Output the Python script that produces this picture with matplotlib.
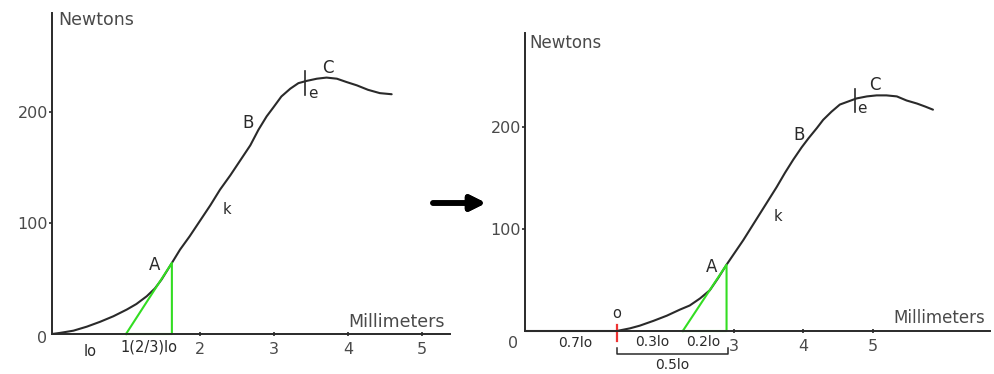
import matplotlib.pyplot as plt

# Load-extension curve (mm, N)
left_mm = [0.0, 0.11, 0.29, 0.47, 0.65, 0.83, 1.01, 1.14, 1.28, 1.39, 1.48, 1.62,
           1.73, 1.86, 2.00, 2.14, 2.27, 2.41, 2.54, 2.68, 2.79, 2.90, 2.99, 3.10,
           3.22, 3.33, 3.44, 3.58, 3.71, 3.85, 3.98, 4.12, 4.27, 4.43, 4.59]
left_n = [0, 1, 3, 6.6, 11, 16, 22, 27, 34, 41, 49, 64,
          76, 88, 102, 116, 130, 143, 156, 170, 184, 196, 204, 214,
          221, 226, 228, 230, 231, 230, 227, 224, 220, 217, 216]

# Same curve after moving the origin to point o
right_mm = [0.0, 1.32, 1.51, 1.65, 1.85, 2.04, 2.23, 2.37, 2.52, 2.66, 2.78, 2.90,
            3.02, 3.14, 3.26, 3.38, 3.50, 3.62, 3.74, 3.86, 3.98, 4.08, 4.20, 4.29,
            4.41, 4.53, 4.65, 4.77, 4.92, 5.06, 5.20, 5.35, 5.49, 5.64, 5.76, 5.87]
right_n = [0, 0, 2.6, 5.2, 10, 15, 21, 25, 32, 40, 52, 65,
           77, 89, 102, 115, 128, 141, 155, 168, 180, 189, 199, 207,
           215, 222, 225, 228, 230, 231, 231, 230, 226, 223, 220, 217]

# Tangent triangles at A
left_tri_mm = [1.0, 1.62, 1.62, 1.0]
left_tri_n = [0, 0, 64, 0]
right_tri_mm = [2.27, 2.90, 2.90, 2.27]
right_tri_n = [0, 0, 65, 0]

# Points on the curve and the elastic limit mark
left_points = {'A': (1.39, 62), 'B': (2.65, 190), 'C': (3.73, 240), 'k': (2.36, 112), 'e': (3.53, 217)}
right_points = {'A': (2.69, 63), 'B': (3.94, 192), 'C': (5.04, 241), 'k': (3.64, 112), 'e': (4.85, 218)}
left_e_mark = 3.42
right_e_mark = 4.75

y_ticks = [100, 200]
left_x_ticks = [2, 3, 4, 5]
right_x_ticks = [3, 4, 5]

o_mm = 1.32

INK = '#2a2a2a'
GRAY = '#4a4a4a'
GREEN = '#33dd22'

W, H = 994, 374


def setup_axes(fig, origin, px_mm, px_100n, x_end, y_top):
    # Place the axes so that one millimetre and 100 N get the given pixel sizes
    ox, oy = origin
    ax = fig.add_axes([ox / W, (H - oy) / H, (x_end - ox) / W, (oy - y_top) / H])
    ax.set_xlim(0, (x_end - ox) / px_mm)
    ax.set_ylim(0, (oy - y_top) / px_100n * 100)
    ax.patch.set_alpha(0)
    for side in ['top', 'right']:
        ax.spines[side].set_visible(False)
    for side in ['left', 'bottom']:
        ax.spines[side].set_color(INK)
        ax.spines[side].set_linewidth(1.4)
    ax.set_yticks(y_ticks)
    ax.set_yticklabels([str(v) for v in y_ticks])
    ax.tick_params(axis='y', direction='out', length=2, width=1.2, color=INK,
                   pad=1, labelsize=11.5, labelcolor=GRAY)
    ax.tick_params(axis='x', direction='inout', length=3, width=1.2, color=INK,
                   pad=4, labelsize=11.5, labelcolor=GRAY)
    return ax


def draw_curve(ax, mm, n, tri_mm, tri_n, points, e_mark):
    ax.plot(mm, n, color=INK, lw=1.5, solid_capstyle='round',
            solid_joinstyle='round', clip_on=False)
    ax.plot(tri_mm, tri_n, color=GREEN, lw=1.5, clip_on=False)
    for name, (x, y) in points.items():
        size = {'k': 10.5, 'e': 11}.get(name, 12)
        ax.text(x, y, name, fontsize=size, color=INK, ha='center', va='center')
    # short stroke across the curve at the elastic limit
    ax.plot([e_mark, e_mark], [215, 237], color=INK, lw=1.2)


fig = plt.figure(figsize=(W / 100, H / 100), dpi=100)

# Left panel
ax1 = setup_axes(fig, (52, 334), 74, 111, 450, 13)
ax1.set_xticks(left_x_ticks)
ax1.set_xticklabels([str(v) for v in left_x_ticks])
draw_curve(ax1, left_mm, left_n, left_tri_mm, left_tri_n, left_points, left_e_mark)
ax1.text(0.08, 283, 'Newtons', fontsize=12.5, color=GRAY, ha='left', va='center')
ax1.text(4.0, 11, 'Millimeters', fontsize=12.5, color=GRAY, ha='left', va='center')
ax1.text(-0.14, -4, '0', fontsize=11.5, color=GRAY, ha='center', va='center')
ax1.text(0.51, -16, 'lo', fontsize=10.5, color=INK, ha='center', va='center')
ax1.text(0.93, -11.5, '1(2/3)lo', fontsize=10.5, color=INK, ha='left', va='center')

# Right panel
ax2 = setup_axes(fig, (525, 331), 69.5, 102, 990, 33)
ax2.set_xticks(right_x_ticks)
ax2.set_xticklabels([str(v) for v in right_x_ticks])
draw_curve(ax2, right_mm, right_n, right_tri_mm, right_tri_n, right_points, right_e_mark)
ax2.text(0.07, 282, 'Newtons', fontsize=12, color=GRAY, ha='left', va='center')
ax2.text(5.3, 13, 'Millimeters', fontsize=12, color=GRAY, ha='left', va='center')
ax2.text(-0.17, -12, '0', fontsize=11.5, color=GRAY, ha='center', va='center')

# new origin o and the lo fractions below the axis
ax2.plot([o_mm, o_mm], [6, -10], color='#ee3333', lw=1.6, clip_on=False)
ax2.text(o_mm, 17.5, 'o', fontsize=10.5, color=INK, ha='center', va='center')
ax2.text(0.72, -12, '0.7lo', fontsize=10, color=INK, ha='center', va='center')
ax2.text(1.83, -11, '0.3lo', fontsize=10, color=INK, ha='center', va='center')
ax2.text(2.57, -11, '0.2lo', fontsize=10, color=INK, ha='center', va='center')
ax2.plot([o_mm, o_mm, 2.92, 2.92], [-17, -22.5, -22.5, -17], color=INK, lw=1.1, clip_on=False)
ax2.text(2.12, -33, '0.5lo', fontsize=10, color=INK, ha='center', va='center')

# Arrow between the two panels
fig.add_artist(plt.annotate('', xy=(486, H - 203), xytext=(433, H - 203),
                            xycoords='figure pixels', textcoords='figure pixels',
                            arrowprops=dict(arrowstyle='-|>', lw=4, color='black',
                                            mutation_scale=22, shrinkA=0, shrinkB=0)))

fig.savefig('out.png', dpi=100)
